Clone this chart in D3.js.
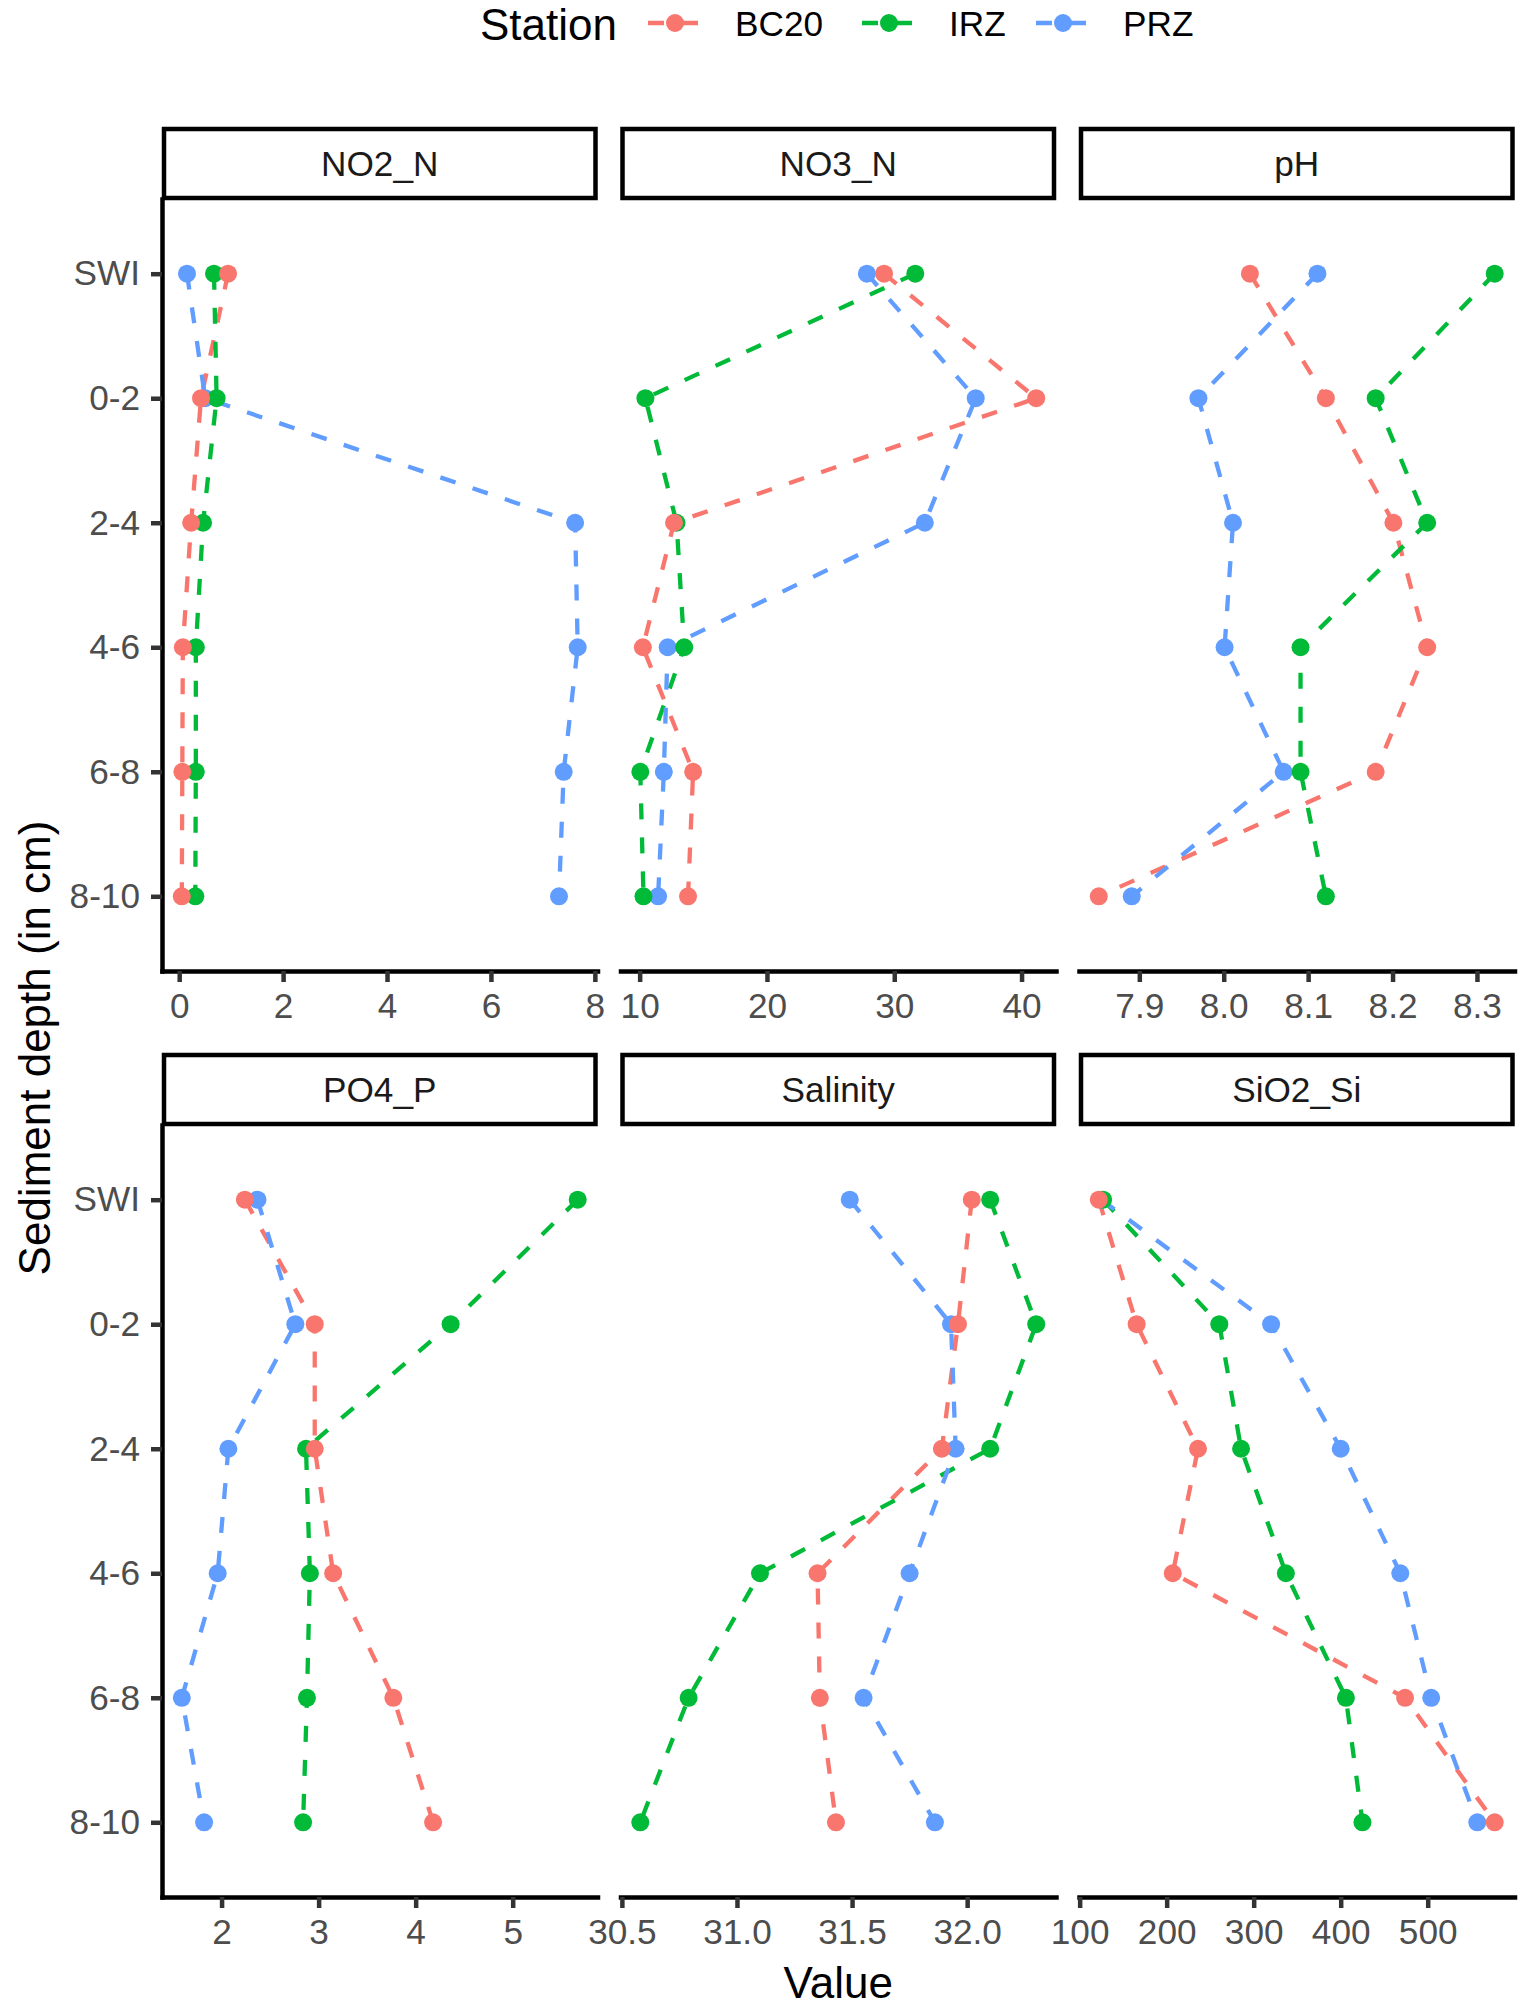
<!DOCTYPE html>
<html lang="en">
<head>
    <meta charset="UTF-8">
    <title>Sediment profiles</title>
    <style>
        body { margin: 0; background: #fff; }
        svg text { font-family: "Liberation Sans", Arial, sans-serif; }
        .axis path, .axis line { fill: none; stroke-width: 4.5; }
        .axis path { stroke: #000; stroke-linecap: square; }
        .axis line { stroke: #333; }
        .axis text { fill: #4d4d4d; font-size: 35.2px; }
    </style>
</head>
<body>
<script src="https://cdn.jsdelivr.net/npm/d3@7"></script>
<script>
    // depth levels (y axis) and stations (colour)
    var depths = ["SWI", "0-2", "2-4", "4-6", "6-8", "8-10"];
    var stations = ["BC20", "IRZ", "PRZ"];
    var colors = ["#F8766D", "#00BA38", "#619CFF"];
    var variables = ["NO2_N", "NO3_N", "pH", "PO4_P", "Salinity", "SiO2_Si"];

    // values per variable: [BC20, IRZ, PRZ], each in depth order
    var no2N = [
        [0.94, 0.42, 0.23, 0.07, 0.06, 0.05],
        [0.67, 0.72, 0.46, 0.32, 0.32, 0.31],
        [0.15, 0.50, 7.62, 7.67, 7.40, 7.31]
    ];
    var no3N = [
        [29.2, 41.15, 12.7, 10.25, 14.2, 13.8],
        [31.65, 10.45, 12.9, 13.5, 10.05, 10.3],
        [27.85, 36.4, 32.4, 12.2, 11.9, 11.45]
    ];
    var pH = [
        [8.031, 8.121, 8.201, 8.241, 8.180, 7.852],
        [8.321, 8.180, 8.241, 8.091, 8.091, 8.121],
        [8.111, 7.970, 8.011, 8.001, 8.071, 7.891]
    ];
    var po4P = [
        [2.24, 2.96, 2.96, 3.15, 3.77, 4.18],
        [5.67, 4.36, 2.87, 2.91, 2.88, 2.84],
        [2.37, 2.76, 2.07, 1.96, 1.59, 1.82]
    ];
    var salinity = [
        [32.02, 31.96, 31.89, 31.35, 31.36, 31.43],
        [32.10, 32.30, 32.10, 31.10, 30.79, 30.58],
        [31.49, 31.93, 31.95, 31.75, 31.55, 31.86]
    ];
    var sio2Si = [
        [122, 165.5, 236, 207, 474, 577],
        [127, 260.5, 285.5, 337, 406, 425],
        [125, 320, 400, 468.5, 504, 557]
    ];

    // x tick labels per panel
    var ticksNO2 = [0, 2, 4, 6, 8];
    var ticksNO3 = [10, 20, 30, 40];
    var ticksPH = [7.9, 8.0, 8.1, 8.2, 8.3];
    var ticksPO4 = [2, 3, 4, 5];
    var ticksSal = [30.5, 31.0, 31.5, 32.0];
    var ticksSiO2 = [100, 200, 300, 400, 500];

    var panelValues = [no2N, no3N, pH, po4P, salinity, sio2Si];
    var panelTicks = [ticksNO2, ticksNO3, ticksPH, ticksPO4, ticksSal, ticksSiO2];
    var panelFormat = [d3.format("d"), d3.format("d"), d3.format(".1f"),
                       d3.format("d"), d3.format(".1f"), d3.format("d")];

    // layout
    var width = 1520, height = 2008;
    var colLeft = [162, 620.5, 1079];
    var panelW = 435.5;
    var rowTop = [199, 1125];
    var panelH = 772;
    var stripH = 72;

    var svg = d3.select("body").append("svg")
        .attr("width", width)
        .attr("height", height);

    svg.append("rect").attr("width", width).attr("height", height).attr("fill", "#fff");

    variables.forEach(function(name, p) {
        var col = p % 3, row = Math.floor(p / 3);
        var x0 = colLeft[col], y0 = rowTop[row];
        var vals = panelValues[p];

        // ggplot-like 5% expansion on x, 0.6 step on discrete y
        var ext = d3.extent(d3.merge(vals));
        var pad = (ext[1] - ext[0]) * 0.05;
        var x = d3.scaleLinear()
            .domain([ext[0] - pad, ext[1] + pad])
            .range([0, panelW]);
        var y = d3.scalePoint()
            .domain(depths)
            .range([0, panelH])
            .padding(0.6);

        var g = svg.append("g").attr("transform", "translate(" + x0 + "," + y0 + ")");

        // strip
        g.append("rect")
            .attr("x", 2).attr("y", -stripH + 2)
            .attr("width", panelW - 4).attr("height", stripH - 3)
            .attr("fill", "#fff")
            .attr("stroke", "#000")
            .attr("stroke-width", 4.5);
        g.append("text")
            .attr("x", panelW / 2)
            .attr("y", -stripH / 2 + 12.5)
            .attr("text-anchor", "middle")
            .attr("font-size", "35.2px")
            .attr("fill", "#1a1a1a")
            .text(name);

        // dashed lines
        var line = d3.line()
            .x(function(d) { return x(d.v); })
            .y(function(d) { return y(d.depth); });

        stations.forEach(function(s, i) {
            var pts = vals[i].map(function(v, j) { return {v: v, depth: depths[j]}; });
            g.append("path")
                .datum(pts)
                .attr("d", line)
                .attr("fill", "none")
                .attr("stroke", colors[i])
                .attr("stroke-width", 4.3)
                .attr("stroke-dasharray", "16,18");
        });

        // points (PRZ first, BC20 on top)
        [2, 1, 0].forEach(function(i) {
            g.selectAll(null)
                .data(vals[i])
                .enter()
                .append("circle")
                .attr("cx", function(d) { return x(d); })
                .attr("cy", function(d, j) { return y(depths[j]); })
                .attr("r", 9)
                .attr("fill", colors[i]);
        });

        // x axis
        g.append("g")
            .attr("class", "axis")
            .attr("transform", "translate(0," + panelH + ")")
            .call(d3.axisBottom(x)
                .tickValues(panelTicks[p])
                .tickFormat(panelFormat[p])
                .tickSize(11)
                .tickSizeOuter(0)
                .tickPadding(11));

        // y axis only on the first column
        if (col === 0) {
            g.append("g")
                .attr("class", "axis")
                .call(d3.axisLeft(y)
                    .tickSize(11)
                    .tickSizeOuter(0)
                    .tickPadding(11));
        }
    });

    // axis titles
    svg.append("text")
        .attr("x", (colLeft[0] + colLeft[2] + panelW) / 2)
        .attr("y", 1998)
        .attr("text-anchor", "middle")
        .attr("font-size", "44px")
        .text("Value");

    svg.append("text")
        .attr("transform", "translate(50," + (rowTop[0] + rowTop[1] + panelH) / 2 + ") rotate(-90)")
        .attr("text-anchor", "middle")
        .attr("font-size", "44px")
        .text("Sediment depth (in cm)");

    // legend
    var legend = svg.append("g");
    legend.append("text")
        .attr("x", 480).attr("y", 40)
        .attr("font-size", "44px")
        .text("Station");

    var keyX = [648, 862, 1036];
    stations.forEach(function(s, i) {
        var k = legend.append("g").attr("transform", "translate(" + keyX[i] + ",23)");
        k.append("line")
            .attr("x1", 0).attr("x2", 53)
            .attr("stroke", colors[i])
            .attr("stroke-width", 4.3)
            .attr("stroke-dasharray", "16,18");
        k.append("circle").attr("cx", 27).attr("r", 9).attr("fill", colors[i]);
        k.append("text")
            .attr("x", 87).attr("y", 13)
            .attr("font-size", "35.2px")
            .text(s);
    });
</script>
</body>
</html>
